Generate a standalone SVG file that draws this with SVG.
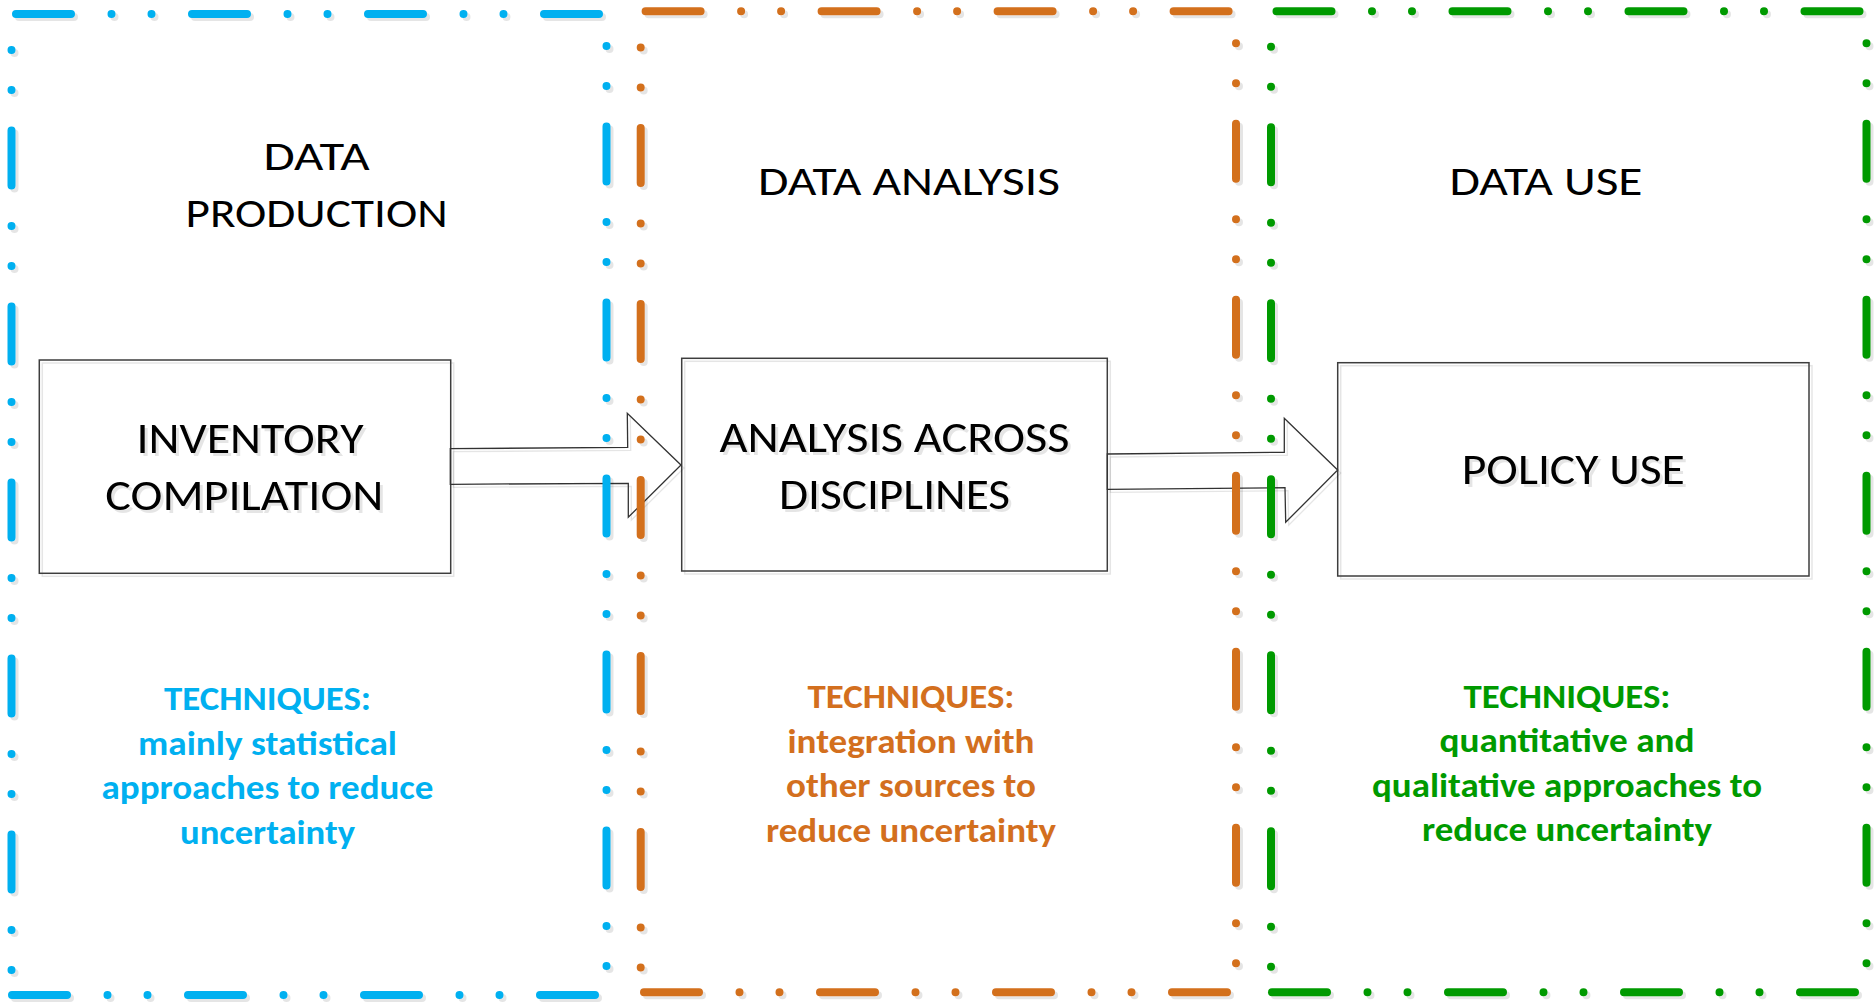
<svg xmlns="http://www.w3.org/2000/svg" width="1874" height="1002" viewBox="0 0 1874 1002">
  <defs>
    <!-- soft grey drop shadow used by frames, boxes, arrows and box labels -->
    <filter id="shadow" filterUnits="userSpaceOnUse" x="0" y="0" width="1874" height="1002">
      <feOffset in="SourceAlpha" dx="3" dy="3" result="off"/>
      <feFlood flood-color="#000" flood-opacity="0.1"/>
      <feComposite in2="off" operator="in" result="sh"/>
      <feMerge>
        <feMergeNode in="sh"/>
        <feMergeNode in="SourceGraphic"/>
      </feMerge>
    </filter>
    <style>
      .frame line { fill: none; stroke-width: 8; stroke-linecap: round; stroke-dasharray: 55 40.5 0 40 0 40.5; }
      .blue line { stroke: #00B0F0; }
      .orange line { stroke: #D36F1E; }
      .green line { stroke: #009A00; }
      .box { fill: none; stroke: #3c3c3c; stroke-width: 1.5; }
      .arrow { fill: none; stroke: #333; stroke-width: 1.3; stroke-linejoin: miter; }
      text { font-family: Carlito, Lato, "Liberation Sans", sans-serif; text-anchor: middle; }
      .title { font-size: 42px; fill: #000; }
      .label { font-size: 42.5px; fill: #000; }
      .tech { font-size: 33.5px; font-weight: bold; }
      .tb { fill: #00B0F0; }
      .to { fill: #D36F1E; }
      .tg { fill: #009A00; }
    </style>
  </defs>

  <rect width="1874" height="1002" fill="#fff"/>

  <!-- process boxes -->
  <g id="inventory-compilation" filter="url(#shadow)">
    <rect class="box" x="39.3" y="360" width="411.4" height="213.3"/>
    <text class="label" x="250" y="453.3" textLength="227" lengthAdjust="spacingAndGlyphs">INVENTORY</text>
    <text class="label" x="244.3" y="510" textLength="278" lengthAdjust="spacingAndGlyphs">COMPILATION</text>
  </g>
  <g id="analysis-across-disciplines" filter="url(#shadow)">
    <rect class="box" x="681.7" y="358.3" width="425.6" height="212.7"/>
    <text class="label" x="894.5" y="452" textLength="350" lengthAdjust="spacingAndGlyphs">ANALYSIS ACROSS</text>
    <text class="label" x="894.5" y="508.7" textLength="231" lengthAdjust="spacingAndGlyphs">DISCIPLINES</text>
  </g>
  <g id="policy-use" filter="url(#shadow)">
    <rect class="box" x="1337.7" y="362.7" width="471.3" height="213.3"/>
    <text class="label" x="1573.3" y="484" textLength="223" lengthAdjust="spacingAndGlyphs">POLICY USE</text>
  </g>

  <!-- block arrows between the boxes -->
  <g id="connectors" filter="url(#shadow)">
    <polygon class="arrow" points="450.3,448.7 627.7,447.3 627.3,413.3 681,465 628.3,517.3 628.3,483.3 450.3,484.3"/>
    <polygon class="arrow" points="1107.3,454 1284.3,452.3 1284.3,418.3 1337.7,470 1285.7,522.3 1285,487.7 1107.3,489.3"/>
  </g>

  <!-- stage frames: dash-dot-dot borders -->
  <g id="frame-production" class="frame blue" filter="url(#shadow)">
    <line x1="16" y1="14" x2="604" y2="14"/>
    <line x1="606.5" y1="14" x2="606.5" y2="995" stroke-dashoffset="63.5"/>
    <line x1="12" y1="995" x2="604" y2="995"/>
    <line x1="11.5" y1="14" x2="11.5" y2="995" stroke-dashoffset="59.5"/>
  </g>
  <g id="frame-analysis" class="frame orange" filter="url(#shadow)">
    <line x1="645.6" y1="11.3" x2="1234" y2="11.3"/>
    <line x1="1236" y1="11.3" x2="1236" y2="992.3" stroke-dashoffset="63.5"/>
    <line x1="644" y1="992.3" x2="1234" y2="992.3"/>
    <line x1="640.7" y1="11.3" x2="640.7" y2="992.3" stroke-dashoffset="59.3"/>
  </g>
  <g id="frame-use" class="frame green" filter="url(#shadow)">
    <line x1="1276.5" y1="11.3" x2="1864" y2="11.3"/>
    <line x1="1866.5" y1="11.3" x2="1866.5" y2="992.3" stroke-dashoffset="63.5"/>
    <line x1="1272" y1="992.3" x2="1864" y2="992.3"/>
    <line x1="1271" y1="11.3" x2="1271" y2="992.3" stroke-dashoffset="60.1"/>
  </g>

  <!-- stage titles -->
  <g id="titles">
    <text class="title" x="316.6" y="170" textLength="106" lengthAdjust="spacingAndGlyphs">DATA</text>
    <text class="title" x="316.6" y="226.7" textLength="262" lengthAdjust="spacingAndGlyphs">PRODUCTION</text>
    <text class="title" x="909" y="195" textLength="302" lengthAdjust="spacingAndGlyphs">DATA ANALYSIS</text>
    <text class="title" x="1546" y="195" textLength="193" lengthAdjust="spacingAndGlyphs">DATA USE</text>
  </g>

  <!-- technique notes -->
  <g id="techniques-production" class="tech tb">
    <text x="267.5" y="710" textLength="207" lengthAdjust="spacingAndGlyphs">TECHNIQUES:</text>
    <text x="267.5" y="754.5" textLength="259" lengthAdjust="spacingAndGlyphs">mainly statistical</text>
    <text x="267.5" y="799" textLength="332" lengthAdjust="spacingAndGlyphs">approaches to reduce</text>
    <text x="267.5" y="843.5" textLength="175" lengthAdjust="spacingAndGlyphs">uncertainty</text>
  </g>
  <g id="techniques-analysis" class="tech to">
    <text x="911" y="708" textLength="207" lengthAdjust="spacingAndGlyphs">TECHNIQUES:</text>
    <text x="911" y="752.5" textLength="247" lengthAdjust="spacingAndGlyphs">integration with</text>
    <text x="911" y="797" textLength="250" lengthAdjust="spacingAndGlyphs">other sources to</text>
    <text x="911" y="841.5" textLength="290" lengthAdjust="spacingAndGlyphs">reduce uncertainty</text>
  </g>
  <g id="techniques-use" class="tech tg">
    <text x="1567" y="707.5" textLength="207" lengthAdjust="spacingAndGlyphs">TECHNIQUES:</text>
    <text x="1567" y="752" textLength="255" lengthAdjust="spacingAndGlyphs">quantitative and</text>
    <text x="1567" y="796.5" textLength="390" lengthAdjust="spacingAndGlyphs">qualitative approaches to</text>
    <text x="1567" y="841" textLength="290" lengthAdjust="spacingAndGlyphs">reduce uncertainty</text>
  </g>
</svg>
